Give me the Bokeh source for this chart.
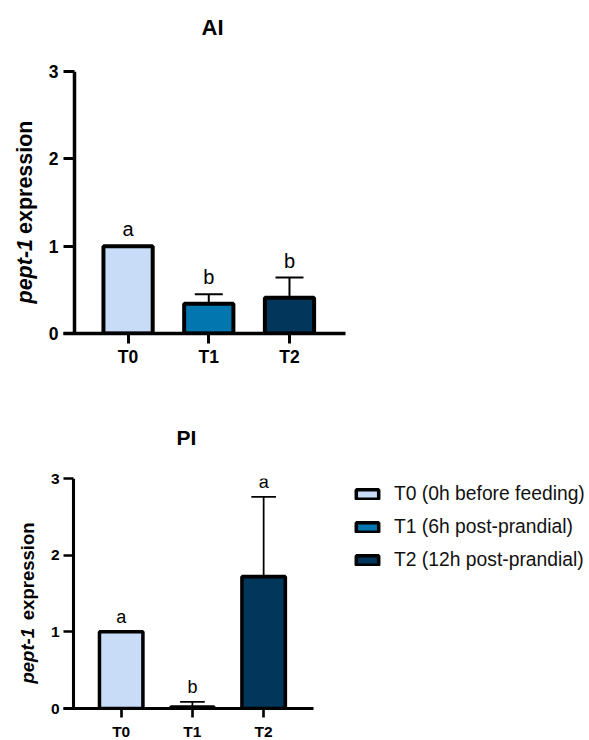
import math
from bokeh.plotting import figure
from bokeh.models import (ColumnDataSource, Range1d, FixedTicker, Span, LabelSet, Title,
                          Whisker, TeeHead, Legend, LegendItem)
from bokeh.core.properties import value
from bokeh.layouts import column
from bokeh.embed import file_html
from bokeh.resources import INLINE

# ---------------- data ----------------
categories = ["T0", "T1", "T2"]
legend_labels = ["T0 (0h before feeding)", "T1 (6h post-prandial)", "T2 (12h post-prandial)"]
colors = ["#C8DCF7", "#0277AF", "#02365A"]

ai_mean = [1.0, 0.34, 0.41]
ai_sem = [0.0, 0.11, 0.23]
ai_letters = ["a", "b", "b"]

pi_mean = [1.0, 0.02, 1.72]
pi_sem = [0.0, 0.065, 1.04]
pi_letters = ["a", "b", "a"]

y_ticks = [0, 1, 2, 3]
y_max = 3

FONT = "Liberation Sans"


def panel(title, mean, sem, letters, *, x_start, x_end, frame_w, frame_h,
          b_left, b_top, b_right, b_bottom, s, tick_in, title_offset, title_gap,
          ylab_gap, ylab_off_bottom, ylab_off_top, fs_title, fs_ylab, fs_tick,
          fs_letter, xlab_standoff, ylab_standoff):
    xs = list(range(len(categories)))
    top = [m + e for m, e in zip(mean, sem)]
    src = ColumnDataSource(dict(x=xs, mean=mean, top=top, color=colors,
                                letter=letters, cat=categories))
    p = figure(frame_width=frame_w, frame_height=frame_h,
               x_range=Range1d(x_start, x_end), y_range=Range1d(0, y_max),
               output_backend="svg", toolbar_location=None,
               min_border_left=b_left, min_border_top=b_top,
               min_border_right=b_right, min_border_bottom=b_bottom)
    p.outline_line_color = None
    p.grid.visible = False
    p.background_fill_color = "white"
    p.border_fill_color = "white"
    p.title.text = ""

    bars = p.vbar(x="x", top="mean", bottom=0, width=0.61, source=src,
                  fill_color="color", line_color="black", line_width=4 * s)

    p.add_layout(Whisker(source=src, base="x", lower="mean", upper="top",
                         line_color="black", line_width=2 * s,
                         upper_head=TeeHead(size=28 * s, line_color="black",
                                            line_width=2 * s),
                         lower_head=None))

    p.add_layout(LabelSet(x="x", y="top", text="letter", source=src,
                          text_align="center", text_baseline="alphabetic",
                          y_offset=10 * s, text_font=value(FONT),
                          text_font_size=f"{fs_letter}px", text_color="black"))

    # title: a thin spacer panel next to the frame, then the title itself
    p.add_layout(Title(text=" ", text_font_size="1px", standoff=title_gap), "above")
    p.add_layout(Title(text=title, align="left", offset=title_offset, standoff=0,
                       text_font=FONT, text_font_style="bold",
                       text_font_size=f"{fs_title}px", text_color="black"), "above")

    # x axis
    ax = p.xaxis[0]
    ax.ticker = FixedTicker(ticks=xs)
    ax.major_label_overrides = {i: c for i, c in enumerate(categories)}
    ax.axis_line_width = 3.5 * s
    ax.axis_line_color = "black"
    ax.major_tick_line_width = 3 * s
    ax.major_tick_in = 0
    ax.major_tick_out = int(round(10 * s))
    ax.minor_tick_line_color = None
    ax.major_label_standoff = xlab_standoff
    ax.major_label_text_font = FONT
    ax.major_label_text_font_style = "bold"
    ax.major_label_text_font_size = f"{fs_tick}px"
    ax.major_label_text_color = "black"

    # y axis (ticks drawn inward from frame edge; axis line as a span)
    ay = p.yaxis[0]
    ay.ticker = FixedTicker(ticks=y_ticks)
    ay.axis_line_color = None
    ay.major_tick_line_width = 3 * s
    ay.major_tick_in = tick_in
    ay.major_tick_out = 0
    ay.minor_tick_line_color = None
    ay.major_label_standoff = ylab_standoff
    ay.major_label_text_font = FONT
    ay.major_label_text_font_style = "bold"
    ay.major_label_text_font_size = f"{fs_tick}px"
    ay.major_label_text_color = "black"
    # spacer label so the y title sits at the right distance from the axis
    ay.axis_label = " "
    ay.axis_label_text_font_size = "1px"
    ay.axis_label_standoff = ylab_gap
    p.add_layout(Span(location=tick_in, location_units="screen", dimension="height",
                      line_color="black", line_width=3.5 * s))

    # y title: italic gene name + bold word, on the same line
    h = fs_ylab * 1.15
    p.add_layout(Title(text="expression", align="right", offset=ylab_off_top,
                       vertical_align="middle", standoff=-(h + 2),
                       text_font=FONT, text_font_style="bold",
                       text_font_size=f"{fs_ylab}px", text_color="black"), "left")
    p.add_layout(Title(text="pept-1", align="left", offset=ylab_off_bottom,
                       vertical_align="middle", standoff=-(h + 2),
                       text_font=FONT, text_font_style="bold italic",
                       text_font_size=f"{fs_ylab}px", text_color="black"), "left")
    return p, bars


p1, _ = panel("AI", ai_mean, ai_sem, ai_letters,
              x_start=-0.80, x_end=2.694, frame_w=282, frame_h=262,
              b_left=63, b_top=71, b_right=10, b_bottom=77, s=1.0, tick_in=11,
              title_offset=138, title_gap=29,
              ylab_gap=17, ylab_off_bottom=30, ylab_off_top=49,
              fs_title=22, fs_ylab=21.5, fs_tick=17.5, fs_letter=20,
              xlab_standoff=3, ylab_standoff=5)

p2, bars2 = panel("PI", pi_mean, pi_sem, pi_letters,
                  x_start=-0.81, x_end=2.70, frame_w=250, frame_h=230,
                  b_left=55, b_top=68, b_right=280, b_bottom=31, s=0.88, tick_in=10,
                  title_offset=113, title_gap=27,
                  ylab_gap=16, ylab_off_bottom=25, ylab_off_top=44,
                  fs_title=21, fs_ylab=18.5, fs_tick=15.5, fs_letter=18,
                  xlab_standoff=5, ylab_standoff=4)

legend = Legend(items=[LegendItem(label=lab, renderers=[bars2], index=i)
                       for i, lab in enumerate(legend_labels)],
                location=(40, 137), orientation="vertical",
                glyph_width=28, glyph_height=12, label_height=20,
                label_standoff=13, spacing=11, padding=0, margin=0,
                border_line_color=None, background_fill_alpha=0,
                label_text_font=FONT, label_text_font_size="19.3px",
                label_text_color="#111111")
p2.add_layout(legend, "right")

layout = column(p1, p2, spacing=0)
open("out.html", "w").write(file_html(layout, INLINE))
